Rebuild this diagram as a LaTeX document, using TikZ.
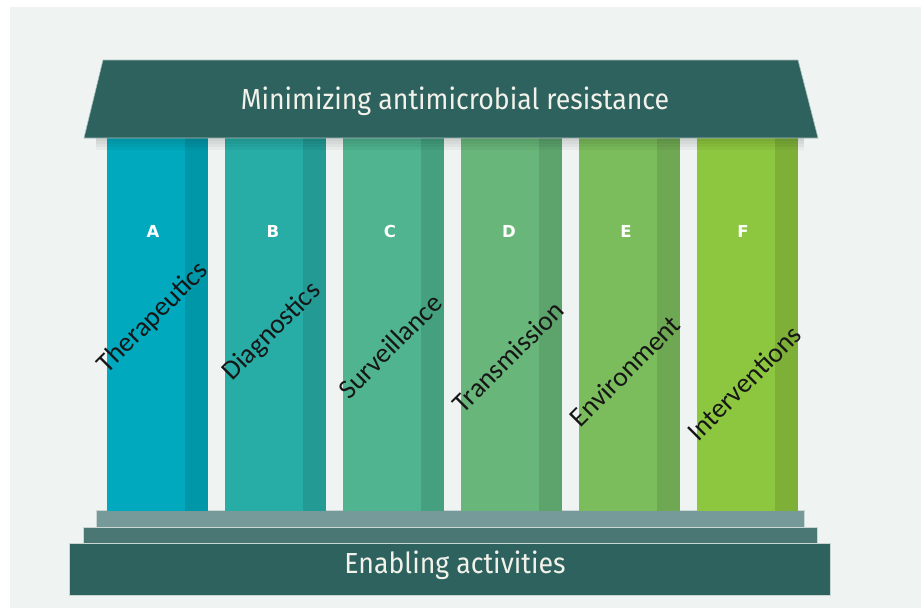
\documentclass[tikz,border=0pt]{standalone}
\usepackage{fontspec}
\setmainfont{Carlito}
\newfontfamily\titlefont[FakeStretch=0.92]{Fira Sans}
\newfontfamily\letterfont{DejaVu Sans}
\definecolor{bg}{HTML}{EFF4F2}
\definecolor{roof}{HTML}{2E625F}
\definecolor{stepA}{HTML}{76999A}
\definecolor{stepB}{HTML}{4A7774}
\definecolor{edge}{HTML}{C9D6D3}
\definecolor{cAl}{HTML}{00A9BD}\definecolor{cAd}{HTML}{0097A8}
\definecolor{cBl}{HTML}{28ADA6}\definecolor{cBd}{HTML}{239A94}
\definecolor{cCl}{HTML}{4FB48F}\definecolor{cCd}{HTML}{45A080}
\definecolor{cDl}{HTML}{68B679}\definecolor{cDd}{HTML}{5DA36C}
\definecolor{cEl}{HTML}{7BBD5C}\definecolor{cEd}{HTML}{6EA852}
\definecolor{cFl}{HTML}{8DC63F}\definecolor{cFd}{HTML}{7EB038}
\definecolor{titletext}{HTML}{F2F2EA}
\definecolor{labeltext}{HTML}{161616}
\tikzset{
  headtext/.style={text=titletext, font=\titlefont\fontsize{29}{29}\selectfont, inner sep=0pt},
  lettertext/.style={text=white, font=\letterfont\bfseries\fontsize{16.5}{16.5}\selectfont, inner sep=0pt},
  pillartext/.style={text=labeltext, font=\fontsize{27.5}{27.5}\selectfont, rotate=45, inner sep=0pt},
}
\begin{document}
\begin{tikzpicture}[x=1pt,y=-1pt]
\useasboundingbox (0,0) rectangle (921,608);
\fill[white] (0,0) rectangle (921,608);
\fill[bg] (10,7) rectangle (921,608);
% base steps
\fill[roof, draw=edge, line width=0.6pt] (69,543) rectangle (830,595);
\fill[stepB, draw=edge, line width=0.6pt] (83,527) rectangle (817,543);
\fill[stepA, draw=edge, line width=0.6pt] (96,510) rectangle (804,527);
% pillars
\foreach \L/\cl/\cd in {107/cAl/cAd, 225/cBl/cBd, 343/cCl/cCd, 461/cDl/cDd, 579/cEl/cEd, 697/cFl/cFd}{
  \fill[\cl] (\L,138) rectangle ({\L+78},511);
  \fill[\cd] ({\L+78},138) rectangle ({\L+101},511);
}
% shadow under roof
\foreach \h in {3,6,9,12}{
  \fill[black, opacity=0.035] (96,138) rectangle (804,{138+\h});
}
% roof
\fill[roof, draw=edge!80!roof, line width=0.6pt] (103,60) -- (798,60) -- (818,138) -- (84,138) -- cycle;
\node[headtext] (title) at (455,101) {Minimizing antimicrobial resistance};
\node[headtext] (base) at (455,565) {Enabling activities};
% letters
\node[lettertext] (la) at (153,231) {A};
\node[lettertext] (lb) at (273,231) {B};
\node[lettertext] (lc) at (390,231) {C};
\node[lettertext] (ld) at (509,231) {D};
\node[lettertext] (le) at (626,231) {E};
\node[lettertext] (lf) at (743,231) {F};
% pillar labels
\node[pillartext] (ta) at (153,318) {Therapeutics};
\node[pillartext] (tb) at (272,332) {Diagnostics};
\node[pillartext] (tc) at (390,346) {Surveillance};
\node[pillartext] (td) at (508,357) {Transmission};
\node[pillartext] (te) at (625,371) {Environment};
\node[pillartext] (tf) at (744,383) {Interventions};
\end{tikzpicture}
\end{document}
